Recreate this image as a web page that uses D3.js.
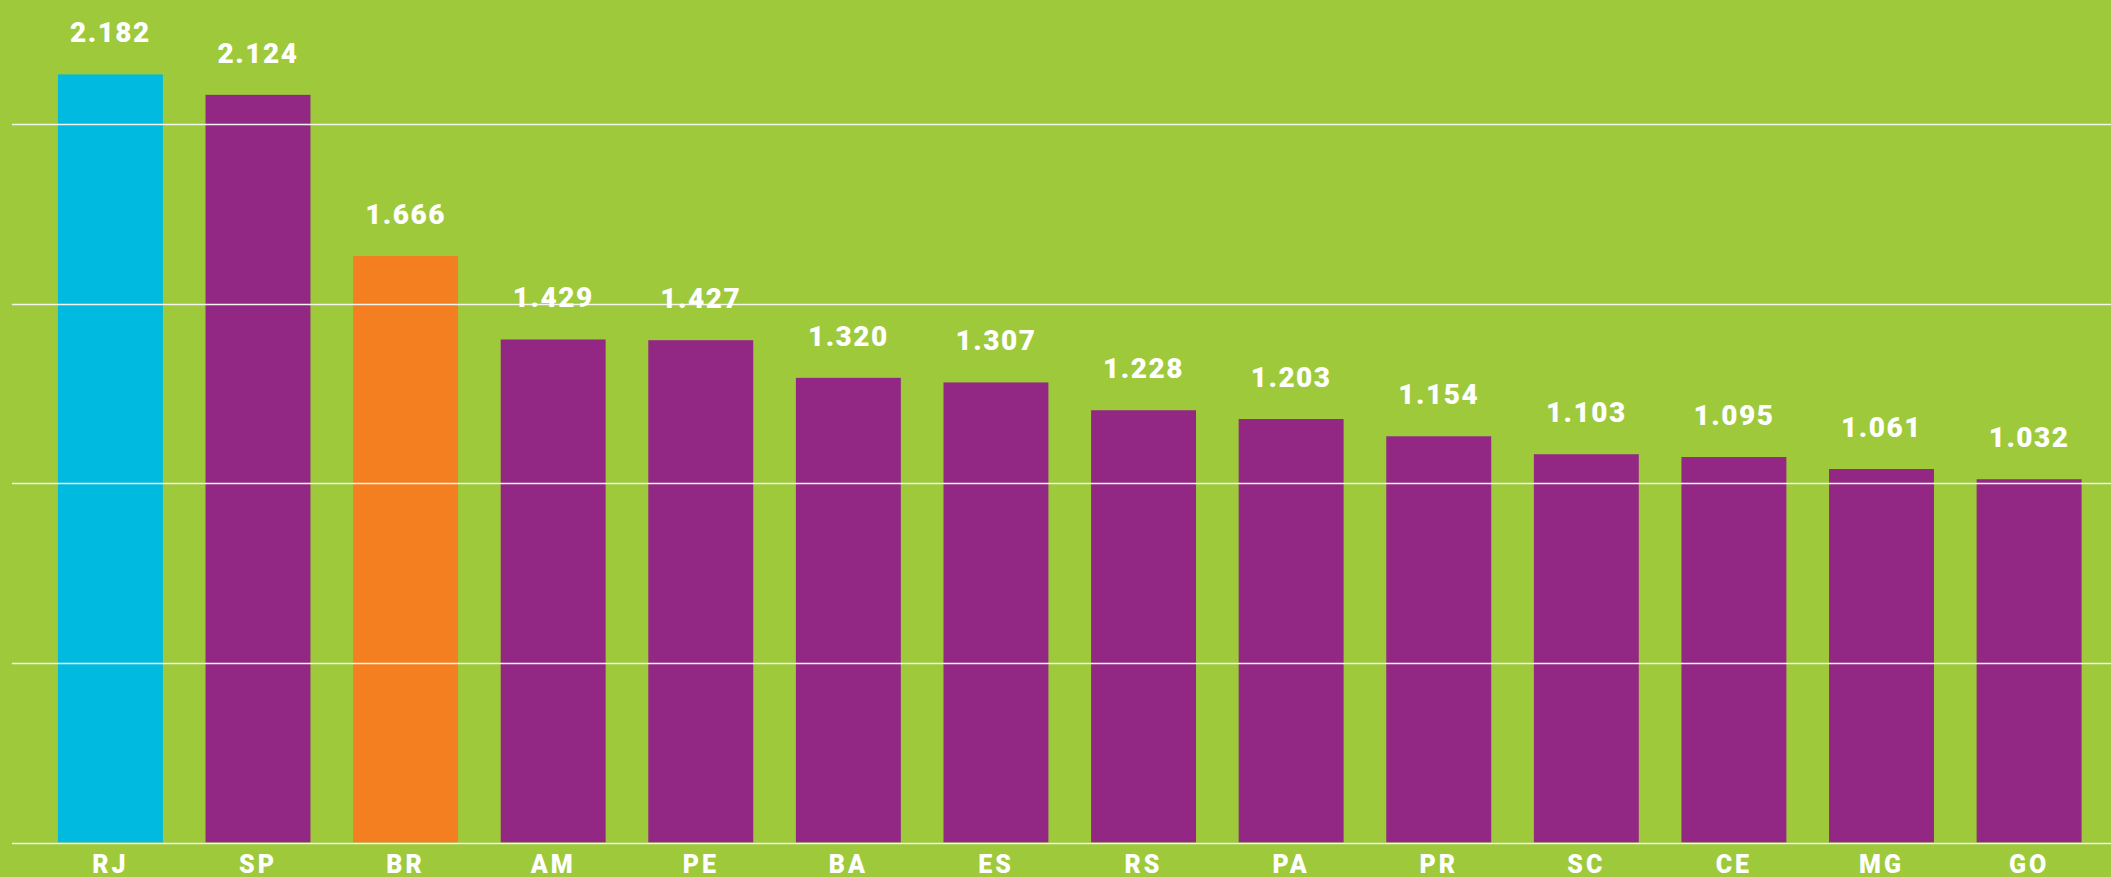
<!DOCTYPE html>
<html>
<head>
<meta charset="utf-8">
<script src="https://cdn.jsdelivr.net/npm/d3@7"></script>
<style>
  body { margin: 0; background: #9dc93b; overflow: hidden; }
  .value, .cat { fill: #ffffff; font-family: Roboto, "Open Sans", sans-serif; font-weight: 900; }
</style>
</head>
<body>
<div class="chart"></div>
<script>
// Data
var states = ["RJ", "SP", "BR", "AM", "PE", "BA", "ES", "RS", "PA", "PR", "SC", "CE", "MG", "GO"];
var values = [2.182, 2.124, 1.666, 1.429, 1.427, 1.320, 1.307, 1.228, 1.203, 1.154, 1.103, 1.095, 1.061, 1.032];
var valueLabels = ["2.182", "2.124", "1.666", "1.429", "1.427", "1.320", "1.307", "1.228", "1.203", "1.154", "1.103", "1.095", "1.061", "1.032"];
// gridlines as they sit in the picture, in data units
var gridValues = [0, 0.51, 1.02, 1.53, 2.04];

var svgWidth = 2111;
var svgHeight = 877;
var baseY = 842.5;
var pxPerUnit = 352;

var colorFor = function(s) {
  if (s === "RJ") return "#00badf";
  if (s === "BR") return "#f47f20";
  return "#932884";
};

var svg = d3.select(".chart")
  .append("svg")
  .attr("width", svgWidth)
  .attr("height", svgHeight);

svg.append("rect")
  .attr("width", svgWidth)
  .attr("height", svgHeight)
  .attr("fill", "#9dc93b");

var x = d3.scaleBand()
  .domain(states)
  .range([36.6, 2102.9])
  .paddingInner(0.289)
  .paddingOuter(0.1445);

var y = d3.scaleLinear()
  .domain([0, 2])
  .range([baseY, baseY - 2 * pxPerUnit]);

var data = states.map(function(s, i) {
  return { state: s, value: values[i], label: valueLabels[i] };
});

// bars
svg.selectAll(".bar")
  .data(data)
  .enter().append("rect")
  .attr("class", "bar")
  .attr("x", function(d) { return x(d.state); })
  .attr("y", function(d) { return y(d.value); })
  .attr("width", x.bandwidth())
  .attr("height", function(d) { return y(0) - y(d.value); })
  .attr("fill", function(d) { return colorFor(d.state); });

// gridlines drawn over the bars
svg.selectAll(".grid")
  .data(gridValues)
  .enter().append("line")
  .attr("class", "grid")
  .attr("x1", 12)
  .attr("x2", svgWidth)
  .attr("y1", function(d) { return Math.round(y(d)) + 0.5; })
  .attr("y2", function(d) { return Math.round(y(d)) + 0.5; })
  .attr("stroke", "#f4f4f0")
  .attr("stroke-width", function(d) { return d === 0 ? 1.6 : 1.3; });

// value labels
svg.selectAll(".value")
  .data(data)
  .enter().append("text")
  .attr("class", "value")
  .attr("x", function(d) { return x(d.state) + x.bandwidth() / 2; })
  .attr("y", function(d) { return y(d.value) - 32; })
  .attr("text-anchor", "middle")
  .style("font-size", "28px")
  .style("letter-spacing", "1.5px")
  .text(function(d) { return d.label; });

// category axis
var xAxis = d3.axisBottom(x).tickSize(0).tickPadding(0);
var axisG = svg.append("g")
  .attr("transform", "translate(0," + baseY + ")")
  .call(xAxis);
axisG.select(".domain").remove();
axisG.selectAll("text")
  .attr("class", "cat")
  .attr("dy", null)
  .attr("y", 30)
  .attr("fill", "#ffffff")
  .style("font-size", "25px")
  .style("letter-spacing", "3px");
</script>
</body>
</html>
